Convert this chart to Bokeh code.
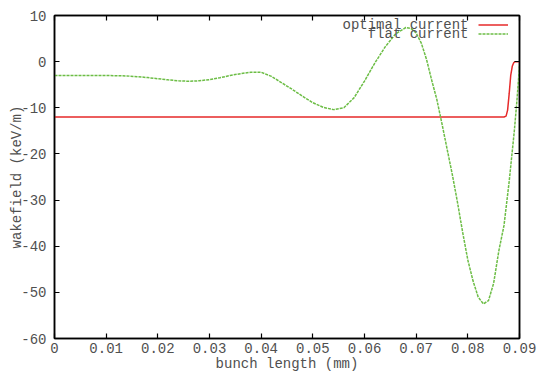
from bokeh.plotting import figure
from bokeh.models import (Range1d, LinearAxis, FixedTicker, Label, Legend, LegendItem)
from bokeh.embed import file_html
from bokeh.resources import INLINE

# ---- data ----
flat_x = [0.000, 0.004, 0.008, 0.010, 0.012, 0.014, 0.016, 0.018, 0.020, 0.022,
          0.024, 0.026, 0.028, 0.030, 0.032, 0.034, 0.036, 0.038, 0.040, 0.042,
          0.044, 0.046, 0.048, 0.050, 0.052, 0.054, 0.056, 0.058, 0.060, 0.062,
          0.064, 0.066, 0.068, 0.069, 0.070, 0.071, 0.072, 0.073, 0.074, 0.075,
          0.076, 0.077, 0.078, 0.079, 0.080, 0.081, 0.082, 0.083, 0.084, 0.085,
          0.086, 0.087, 0.088, 0.089, 0.0895, 0.090]
flat_y = [-3.0, -3.0, -3.0, -3.0, -3.05, -3.1, -3.25, -3.45, -3.7, -3.95,
          -4.15, -4.25, -4.15, -3.9, -3.5, -3.0, -2.6, -2.3, -2.3, -3.2,
          -4.6, -6.0, -7.5, -8.9, -9.9, -10.4, -10.0, -7.8, -4.2, -0.3,
          3.2, 6.0, 7.4, 7.2, 6.2, 4.0, 0.5, -4.0, -8.2, -13.5,
          -19.0, -24.5, -30.5, -37.0, -43.0, -47.5, -51.0, -52.5, -51.8, -48.0,
          -41.0, -35.5, -26.0, -15.0, -8.5, -1.0]

opt_x = [0.000, 0.0870, 0.0874, 0.0877, 0.0880, 0.0883, 0.0886, 0.0889, 0.0892, 0.090]
opt_y = [-12.0, -12.0, -11.8, -10.5, -7.0, -3.0, -1.0, -0.2, 0.0, 0.0]

x_ticks = [0.0, 0.01, 0.02, 0.03, 0.04, 0.05, 0.06, 0.07, 0.08, 0.09]
x_tick_labels = ["0", "0.01", "0.02", "0.03", "0.04", "0.05", "0.06", "0.07", "0.08", "0.09"]
y_ticks = [-60, -50, -40, -30, -20, -10, 0, 10]
y_tick_labels = ["-60", "-50", "-40", "-30", "-20", "-10", "0", "10"]

series_names = ["optimal current", "flat current"]
x_title = "bunch length (mm)"
y_title = "wakefield (keV/m)"

FONT = "Liberation Mono"
TXT = "#505050"
RED = "#e62a2a"
GREEN = "#6cbd45"

p = figure(width=539, height=374, output_backend="svg", toolbar_location=None,
           x_range=Range1d(0, 0.09), y_range=Range1d(-60, 10),
           min_border_left=54, min_border_right=20, min_border_top=15, min_border_bottom=35,
           x_axis_location=None, y_axis_location=None)
p.xgrid.visible = False
p.ygrid.visible = False
p.outline_line_color = "black"
p.outline_line_width = 1.5
p.background_fill_color = "white"
p.border_fill_color = "white"

def style_axis(ax, ticks, labels, show_labels):
    ax.ticker = FixedTicker(ticks=ticks)
    ax.major_label_overrides = {t: (l if show_labels else "") for t, l in zip(ticks, labels)}
    ax.major_tick_in = 5
    ax.major_tick_out = 0
    ax.minor_tick_in = 0
    ax.minor_tick_out = 0
    ax.major_tick_line_color = "black"
    ax.major_tick_line_width = 1.2
    ax.axis_line_color = "black"
    ax.axis_line_width = 1.5
    ax.major_label_text_font = FONT
    ax.major_label_text_font_size = "14px"
    ax.major_label_text_color = TXT
    ax.axis_label_text_font = FONT
    ax.axis_label_text_font_size = "14px"
    ax.axis_label_text_font_style = "normal"
    ax.axis_label_text_color = TXT

xb = LinearAxis()
style_axis(xb, x_ticks, x_tick_labels, True)
xb.major_label_standoff = 4
xb.axis_label = x_title
xb.axis_label_standoff = 0
p.add_layout(xb, "below")

yl = LinearAxis()
style_axis(yl, y_ticks, y_tick_labels, True)
yl.major_label_standoff = 8
yl.axis_label = y_title
yl.axis_label_standoff = -7
p.add_layout(yl, "left")

xt = LinearAxis()
style_axis(xt, x_ticks, x_tick_labels, False)
p.add_layout(xt, "above")

yr = LinearAxis()
style_axis(yr, y_ticks, y_tick_labels, False)
p.add_layout(yr, "right")

r_opt = p.line(opt_x, opt_y, line_color=RED, line_width=1.5)
r_flat = p.line(flat_x, flat_y, line_color=GREEN, line_width=1.5, line_dash="3 1")

# legend: right-aligned texts followed by line samples
leg = Legend(items=[LegendItem(label=" ", renderers=[r_opt]),
                    LegendItem(label=" ", renderers=[r_flat])],
             location=(424, 300), padding=0, margin=0, spacing=0,
             glyph_width=30, glyph_height=9, label_height=9, label_width=0,
             label_standoff=0, label_text_font_size="1px",
             border_line_alpha=0, background_fill_alpha=0)
p.add_layout(leg, "center")
for i, name in enumerate(series_names):
    p.add_layout(Label(x=414, y=314 - 9.5 * i, x_units="screen", y_units="screen",
                       text=name, text_align="right", text_baseline="middle",
                       text_font=FONT, text_font_size="14px", text_color=TXT))

open("out.html", "w").write(file_html(p, INLINE))
